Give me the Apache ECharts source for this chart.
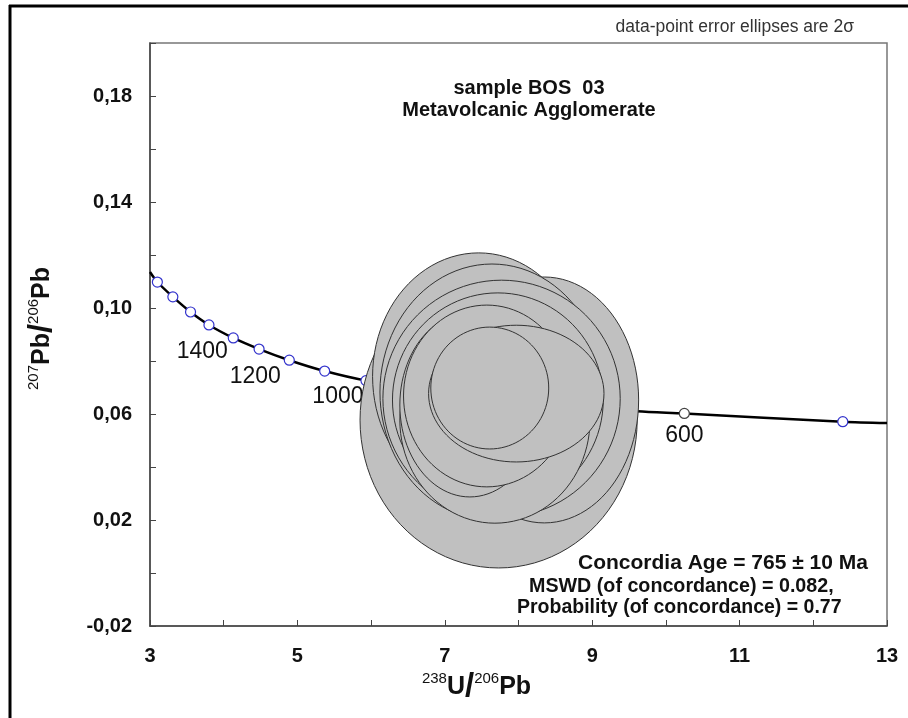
<!DOCTYPE html>
<html>
<head>
<meta charset="utf-8">
<script src="https://cdn.jsdelivr.net/npm/echarts@6/dist/echarts.min.js"></script>
<style>
  html, body { margin: 0; padding: 0; background: #fff; }
  #chart { width: 908px; height: 718px; }
</style>
</head>
<body>
<div id="chart"></div>
<script>
// concordia curve (238U/206Pb, 207Pb/206Pb)
const curveX = [3.00, 3.10, 3.31, 3.55, 3.80, 4.13, 4.48, 4.89, 5.37, 5.93, 6.67, 7.55, 8.70, 9.61, 10.25, 12.40, 13.00];
const curveY = [0.1136, 0.1098, 0.1042, 0.0985, 0.0936, 0.0887, 0.0845, 0.0803, 0.0762, 0.0726, 0.0694, 0.0667, 0.0632, 0.0610, 0.0602, 0.0571, 0.0566];

// age markers on the curve (Ma)
const markerAge = [1800, 1700, 1600, 1500, 1400, 1300, 1200, 1100, 1000, 600, 500];
const markerX = [3.10, 3.31, 3.55, 3.80, 4.13, 4.48, 4.89, 5.37, 5.93, 10.25, 12.40];
const markerY = [0.1098, 0.1042, 0.0985, 0.0936, 0.0887, 0.0845, 0.0803, 0.0762, 0.0726, 0.0602, 0.0571];
const labelledAges = [1400, 1200, 1000, 600];

// data-point error ellipses (2 sigma): centre and half widths, back to front
const ellipseX = [7.73, 8.35, 7.46, 7.64, 7.77, 7.72, 7.68, 7.34, 7.57, 7.97, 7.61];
const ellipseY = [0.0577, 0.0653, 0.0742, 0.0683, 0.0658, 0.0653, 0.0577, 0.0634, 0.0668, 0.0677, 0.0698];
const ellipseSx = [1.88, 1.28, 1.44, 1.52, 1.61, 1.43, 1.29, 0.95, 1.13, 1.19, 0.80];
const ellipseSy = [0.0558, 0.0464, 0.0466, 0.0483, 0.0447, 0.0404, 0.0389, 0.0347, 0.0343, 0.0258, 0.0230];

// tick labels
const xTickLabels = [3, 5, 7, 9, 11, 13];
const yTickLabels = [-0.02, 0.02, 0.06, 0.10, 0.14, 0.18];

const FONT = 'Arial, "Liberation Sans", sans-serif';
const chart = echarts.init(document.getElementById('chart'), null, { renderer: 'canvas' });

const hasTick = (list, v) => list.some(t => Math.abs(t - v) < 1e-6);

// label offsets (px) relative to the marker
const labelOffset = { 1400: [-31, 14], 1200: [-34, 16], 1000: [-28, 16], 600: [0, 22] };

const markerData = markerAge.map((age, i) => {
  const item = { value: [markerX[i], markerY[i]], age: age };
  if (age === 600) item.itemStyle = { borderColor: '#444' };
  if (labelledAges.indexOf(age) >= 0) {
    item.label = {
      show: true,
      position: 'inside',
      offset: labelOffset[age],
      formatter: String(age),
      fontFamily: FONT,
      fontSize: 23,
      color: '#111'
    };
  }
  return item;
});

const titleRich = {
  main: { fontFamily: FONT, fontSize: 25, fontWeight: 'bold', color: '#111', lineHeight: 32 },
  sup: { fontFamily: FONT, fontSize: 15, color: '#111', verticalAlign: 'top', lineHeight: 16 },
  slash: { fontFamily: FONT, fontSize: 33, fontWeight: 'bold', color: '#111', lineHeight: 32 }
};

const option = {
  animation: false,
  backgroundColor: '#fff',
  grid: {
    left: 150, right: 21, top: 43, bottom: 92,
    show: true, borderColor: '#777', borderWidth: 1.5
  },
  xAxis: {
    type: 'value',
    min: 3, max: 13, interval: 1,
    axisLine: { show: true, onZero: false, lineStyle: { color: '#444', width: 1.5 } },
    axisTick: { show: true, inside: true, length: 6, lineStyle: { color: '#444' } },
    splitLine: { show: false },
    axisLabel: {
      margin: 20,
      fontFamily: FONT, fontSize: 20, fontWeight: 'bold', color: '#111',
      formatter: v => hasTick(xTickLabels, v) ? String(v) : ''
    },
    name: '{sup|238}{main|U}{slash|/}{sup|206}{main|Pb}',
    nameLocation: 'middle',
    nameGap: 44,
    nameTextStyle: { padding: [0, 84, 0, 0], rich: titleRich }
  },
  yAxis: {
    type: 'value',
    min: -0.02, max: 0.20, interval: 0.02,
    axisLine: { show: true, onZero: false, lineStyle: { color: '#444', width: 1.5 } },
    axisTick: { show: true, inside: true, length: 6, lineStyle: { color: '#444' } },
    splitLine: { show: false },
    axisLabel: {
      margin: 18,
      fontFamily: FONT, fontSize: 20, fontWeight: 'bold', color: '#111',
      formatter: v => hasTick(yTickLabels, v) ? v.toFixed(2).replace('.', ',') : ''
    },
    name: '{sup|207}{main|Pb}{slash|/}{sup|206}{main|Pb}',
    nameLocation: 'middle',
    nameGap: 92,
    nameTextStyle: { padding: [0, 0, 0, 12], rich: titleRich }
  },
  series: [
    {
      name: 'concordia',
      type: 'line',
      data: curveX.map((x, i) => [x, curveY[i]]),
      smooth: 0.3,
      showSymbol: false,
      lineStyle: { color: '#000', width: 2.5 },
      z: 2
    },
    {
      name: 'ages',
      type: 'scatter',
      data: markerData,
      symbol: 'circle',
      symbolSize: 10,
      itemStyle: { color: '#fff', borderColor: '#3333cc', borderWidth: 1.2, opacity: 1 },
      z: 3
    },
    {
      name: 'ellipses',
      type: 'custom',
      data: ellipseX.map((x, i) => [x, ellipseY[i], ellipseSx[i], ellipseSy[i]]),
      renderItem: function (params, api) {
        const cx = api.value(0), cy = api.value(1);
        const sx = api.value(2), sy = api.value(3);
        const pts = [];
        for (let k = 0; k < 96; k++) {
          const t = k / 96 * Math.PI * 2;
          pts.push(api.coord([cx + sx * Math.cos(t), cy + sy * Math.sin(t)]));
        }
        return {
          type: 'polygon',
          shape: { points: pts },
          style: { fill: '#c0c0c0', stroke: '#333', lineWidth: 1 }
        };
      },
      clip: true,
      z: 5
    }
  ],
  graphic: [
    // outer frame (top and left edges visible)
    { type: 'line', shape: { x1: 9, y1: 6, x2: 908, y2: 6 }, style: { stroke: '#000', lineWidth: 3 }, z: 10 },
    { type: 'line', shape: { x1: 10, y1: 5, x2: 10, y2: 718 }, style: { stroke: '#000', lineWidth: 3 }, z: 10 },
    {
      type: 'text', right: 54, top: 18, z: 10,
      style: { text: 'data-point error ellipses are 2σ', fontFamily: FONT, fontSize: 17.5, fill: '#333' }
    },
    {
      type: 'text', x: 529, y: 88, z: 10,
      style: { text: 'sample BOS  03', fontFamily: FONT, fontSize: 20, fontWeight: 'bold', fill: '#111', align: 'center', verticalAlign: 'middle' }
    },
    {
      type: 'text', x: 529, y: 110, z: 10,
      style: { text: 'Metavolcanic Agglomerate', fontFamily: FONT, fontSize: 20, fontWeight: 'bold', fill: '#111', align: 'center', verticalAlign: 'middle' }
    },
    {
      type: 'text', x: 578, y: 563, z: 10,
      style: { text: 'Concordia Age = 765 ± 10 Ma', fontFamily: FONT, fontSize: 21, fontWeight: 'bold', fill: '#111', verticalAlign: 'middle' }
    },
    {
      type: 'text', x: 529, y: 587, z: 10,
      style: { text: 'MSWD (of concordance) = 0.082,', fontFamily: FONT, fontSize: 19.7, fontWeight: 'bold', fill: '#111', verticalAlign: 'middle' }
    },
    {
      type: 'text', x: 517, y: 608, z: 10,
      style: { text: 'Probability (of concordance) = 0.77', fontFamily: FONT, fontSize: 19.5, fontWeight: 'bold', fill: '#111', verticalAlign: 'middle' }
    }
  ]
};

chart.setOption(option);
</script>
</body>
</html>
